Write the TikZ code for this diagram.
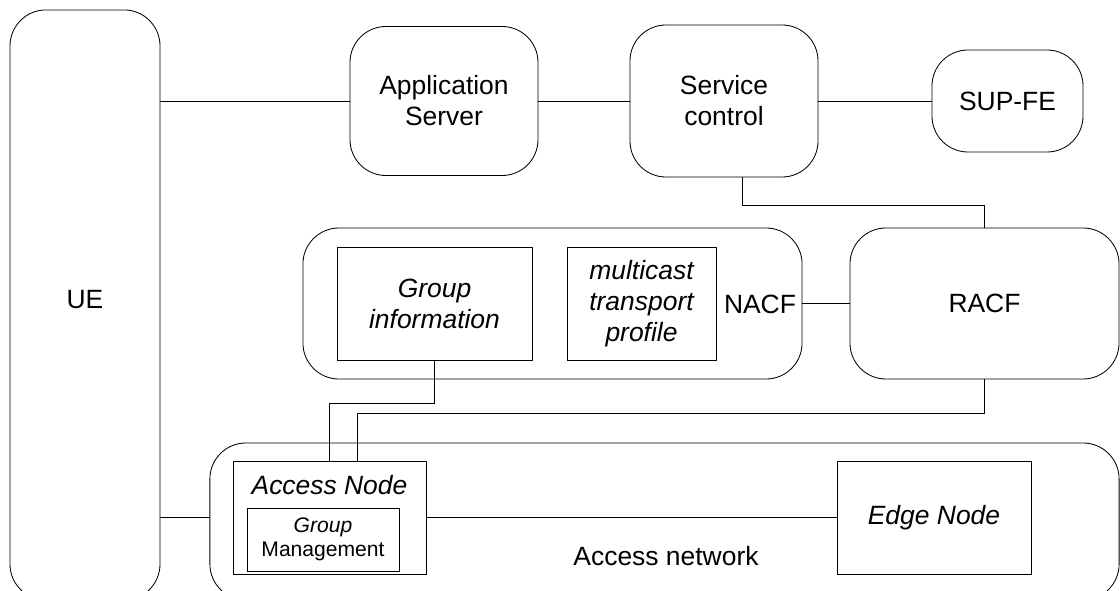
\documentclass[tikz,border=0pt]{standalone}
\usepackage{fontspec}
\setmainfont{Liberation Sans}
\usetikzlibrary{calc}
\tikzstyle{fe} = [rectangle, rounded corners=0.9cm, inner sep=0pt, outer sep=0pt, text centered, align=center, draw=black]
\tikzstyle{block} = [rectangle, inner sep=0pt, outer sep=0pt, text centered, align=center, draw=black]
\tikzstyle{small} = [font=\fontsize{15}{17}\selectfont]

\begin{document}
\begin{tikzpicture}[x=0.025cm, y=-0.025cm, line width=0.6pt, font=\fontsize{18.8}{22}\selectfont]
		\useasboundingbox (0,0) rectangle (1120,591);
		\node (ue) [fe, minimum width=3.75cm, minimum height=14.75cm] at (85,305) {};
		\node (uelabel) at (85,300) {UE};
		\node (as) [fe, minimum width=4.7cm, minimum height=3.725cm] at (444,101) {Application\\Server};
		\node (sc) [fe, minimum width=4.7cm, minimum height=3.8cm] at (724,101) {Service\\control};
		\node (sup) [fe, minimum width=3.775cm, minimum height=2.55cm] at (1007.5,101) {SUP-FE};
		\node (nacf) [fe, minimum width=12.475cm, minimum height=3.775cm] at (552.5,303.5) {};
		\node (nacflabel) at (760,304) {NACF};
		\node (racf) [fe, minimum width=6.725cm, minimum height=3.775cm] at (984.5,303.5) {RACF};
		\node (ginfo) [block, minimum width=4.875cm, minimum height=2.825cm] at (434.5,303.5) {\itshape Group\\\itshape information};
		\node (mtp) [block, minimum width=3.725cm, minimum height=2.825cm] at (641.5,303.5) {\itshape multicast\\\itshape transport\\\itshape profile};
		\node (an) [fe, minimum width=22.725cm, minimum height=3.925cm] at (664.5,521.5) {};
		\node (anlabel) at (666,556) {Access network};
		\node (anode) [block, minimum width=4.825cm, minimum height=2.825cm] at (329.5,517.5) {};
		\node (anodelabel) at (329.5,485) {\itshape Access Node};
		\node (gm) [block, small, minimum width=3.8cm, minimum height=1.575cm] at (323,539.5) {\itshape Group\\Management};
		\node (edge) [block, minimum width=4.85cm, minimum height=2.825cm] at (934,517.5) {\itshape Edge Node};
		
		\draw (ue.east |- as.west) -- (as.west);
		\draw (as.east) -- (sc.west);
		\draw (sc.east) -- (sup.west);
		\draw ($(sc.south)+(18,0)$) -- ++(0,28) -| (racf.north);
		\draw (nacf.east) -- (racf.west);
		\draw (ginfo.south) -- ++(0,43) -| (anode.north);
		\draw (racf.south) -- ++(0,34) -| ($(anode.north)+(27.5,0)$);
		\draw (ue.east |- anode.west) -- (an.west |- anode.west);
		\draw (anode.east) -- (edge.west);
		\end{tikzpicture}
\end{document}
